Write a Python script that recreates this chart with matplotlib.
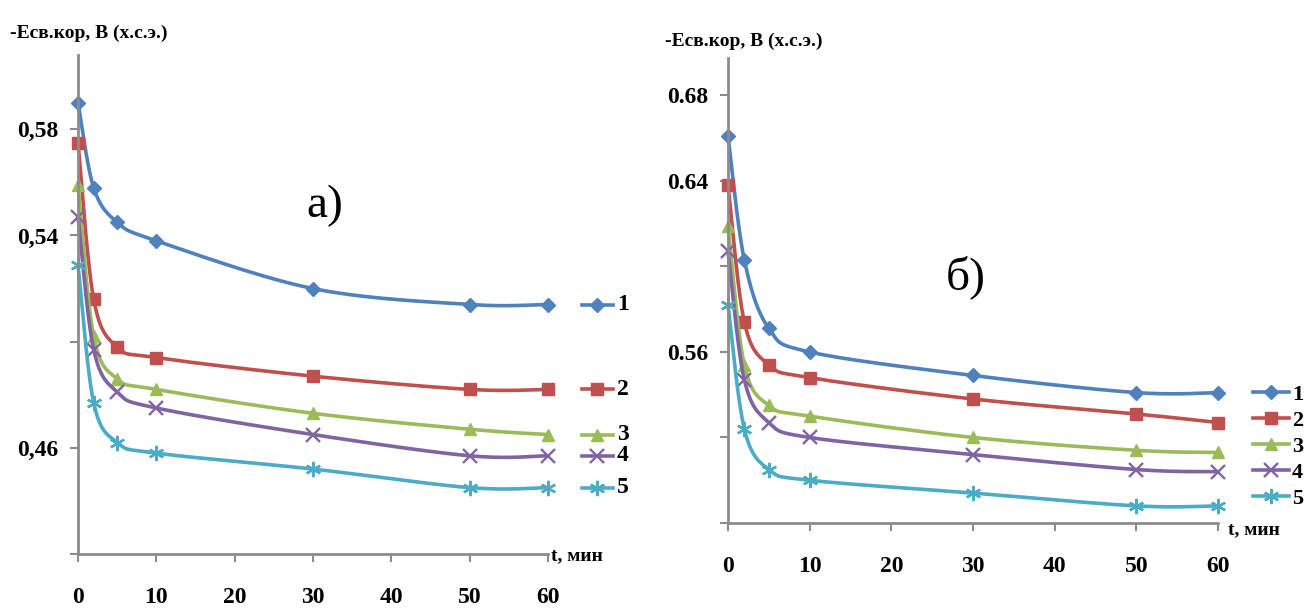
import numpy as np
import matplotlib
matplotlib.use("Agg")
import matplotlib.pyplot as plt
from matplotlib.lines import Line2D
import matplotlib.transforms as mtransforms

# ---------------- data ----------------
t = [0, 2, 5, 10, 30, 50, 60]

a_s1 = [0.590, 0.558, 0.545, 0.538, 0.520, 0.514, 0.514]
a_s2 = [0.575, 0.516, 0.498, 0.494, 0.487, 0.482, 0.482]
a_s3 = [0.559, 0.502, 0.486, 0.482, 0.473, 0.467, 0.465]
a_s4 = [0.547, 0.497, 0.481, 0.475, 0.465, 0.457, 0.457]
a_s5 = [0.529, 0.477, 0.462, 0.458, 0.452, 0.445, 0.445]

b_s1 = [0.661, 0.603, 0.571, 0.560, 0.549, 0.541, 0.541]
b_s2 = [0.638, 0.574, 0.554, 0.548, 0.538, 0.531, 0.527]
b_s3 = [0.619, 0.554, 0.535, 0.530, 0.520, 0.514, 0.513]
b_s4 = [0.607, 0.547, 0.527, 0.520, 0.512, 0.505, 0.504]
b_s5 = [0.582, 0.524, 0.505, 0.500, 0.494, 0.488, 0.488]

series_names = ["1", "2", "3", "4", "5"]

xticks = [0, 10, 20, 30, 40, 50, 60]
a_yticks = [0.42, 0.46, 0.50, 0.54, 0.58]
a_yticklabels = ["", "0,46", "", "0,54", "0,58"]
b_yticks = [0.48, 0.52, 0.56, 0.60, 0.64, 0.68]
b_yticklabels = ["", "", "0.56", "", "0.64", "0.68"]

ylabel_text = "-Eсв.кор, В (х.с.э.)"
xlabel_text = "t, мин"

# ---------------- style ----------------
colors = ["#4F81BD", "#C0504D", "#9BBB59", "#8064A2", "#4BACC6"]
markers = ["D", "s", "^", "x", (6, 2, 0)]
msizes = [7.5, 8.5, 8.5, 10, 11]
FONT = "Liberation Serif"
AXC = "#8c8c8c"

W, H = 1307, 610
fig = plt.figure(figsize=(W / 100, H / 100), dpi=100)


def mew(mk):
    return 1.7 if mk in ("x", (6, 2, 0)) else 1


def smooth(ax, xs, ys, n=30):
    """Excel-like smoothed line (Bezier through points, computed in pixels)."""
    pts = ax.transData.transform(np.column_stack([xs, ys]))
    out = []
    m = len(pts)
    for i in range(m - 1):
        p0 = pts[i - 1] if i > 0 else pts[i]
        p1 = pts[i]
        p2 = pts[i + 1]
        p3 = pts[i + 2] if i + 2 < m else pts[i + 1]
        c1 = p1 + (p2 - p0) / 6.0
        c2 = p2 - (p3 - p1) / 6.0
        s = np.linspace(0, 1, n)[:, None]
        seg = ((1 - s) ** 3) * p1 + 3 * ((1 - s) ** 2) * s * c1 + 3 * (1 - s) * s ** 2 * c2 + s ** 3 * p2
        out.append(seg if i == 0 else seg[1:])
    curve = np.vstack(out)
    return ax.transData.inverted().transform(curve)


def setup(ax, ylim, yticks, ylabels):
    ax.set_xlim(0, 60)
    ax.set_ylim(*ylim)
    for s in ["top", "right"]:
        ax.spines[s].set_visible(False)
    for s in ["left", "bottom"]:
        ax.spines[s].set_color(AXC)
        ax.spines[s].set_linewidth(2)
    ax.set_xticks(xticks)
    ax.set_yticks(yticks)
    ax.set_yticklabels(ylabels)
    ax.tick_params(axis="both", colors=AXC, length=6, width=1.5, direction="out")
    ax.tick_params(axis="x", pad=18)
    ax.tick_params(axis="y", pad=8)
    for lab in ax.get_xticklabels() + ax.get_yticklabels():
        lab.set_fontfamily(FONT)
        lab.set_fontweight("bold")
        lab.set_fontsize(17)
        lab.set_color("black")


def draw(ax, data):
    for ys, c, mk, ms in zip(data, colors, markers, msizes):
        cv = smooth(ax, t, ys)
        ax.plot(cv[:, 0], cv[:, 1], color=c, lw=2.6, solid_capstyle="round", clip_on=False)
        ax.plot(t, ys, linestyle="none", marker=mk, color=c, markersize=ms,
                markeredgewidth=mew(mk), markeredgecolor=c, clip_on=False)


# ---------------- left panel (а) ----------------
axA = fig.add_axes([78 / W, 56 / H, 470 / W, 499 / H])
setup(axA, (0.42, 0.608), a_yticks, a_yticklabels)
dataA = [a_s1, a_s2, a_s3, a_s4, a_s5]
draw(axA, dataA)

# labels next to curve ends
tr = mtransforms.blended_transform_factory(axA.transAxes, axA.transData)
for ys, c, mk, ms, nm in zip(dataA, colors, markers, msizes, series_names):
    yv = ys[-1]
    axA.add_line(Line2D([1.072, 1.138], [yv, yv], transform=tr, color=c, lw=2.6, clip_on=False))
    axA.add_line(Line2D([1.105], [yv], transform=tr, marker=mk, color=c, markersize=ms,
                        markeredgewidth=mew(mk), linestyle="none", clip_on=False))
    axA.text(1.147, yv, nm, transform=tr, fontfamily=FONT, fontweight="bold", fontsize=17,
             va="center", ha="left")

fig.text(325 / W, 1 - 206 / H, "а)", fontfamily=FONT, fontsize=34, ha="center", va="center")
fig.text(10 / W, 1 - 33 / H, ylabel_text, fontfamily=FONT, fontweight="bold", fontsize=14,
         ha="left", va="center")
fig.text(551 / W, 1 - 556 / H, xlabel_text, fontfamily=FONT, fontweight="bold", fontsize=14,
         ha="left", va="center")

# ---------------- right panel (б) ----------------
axB = fig.add_axes([728 / W, 87 / H, 490 / W, 465 / H])
setup(axB, (0.48, 0.6975), b_yticks, b_yticklabels)
dataB = [b_s1, b_s2, b_s3, b_s4, b_s5]
draw(axB, dataB)

handles = [Line2D([], [], color=c, lw=2.6, marker=mk, markersize=ms, markeredgewidth=mew(mk))
           for c, mk, ms in zip(colors, markers, msizes)]
leg = fig.legend(handles, series_names, loc="upper left", bbox_to_anchor=(1253 / W, 1 - 384 / H),
                 frameon=False, handlelength=1.6, handletextpad=0.15, labelspacing=0.25,
                 borderpad=0, borderaxespad=0,
                 prop={"family": FONT, "weight": "bold", "size": 16})

fig.text(966 / W, 1 - 277 / H, "б)", fontfamily=FONT, fontsize=34, ha="center", va="center")
fig.text(665 / W, 1 - 41 / H, ylabel_text, fontfamily=FONT, fontweight="bold", fontsize=14,
         ha="left", va="center")
fig.text(1228 / W, 1 - 530 / H, xlabel_text, fontfamily=FONT, fontweight="bold", fontsize=14,
         ha="left", va="center")

fig.savefig("out.png", dpi=100, facecolor="white")
